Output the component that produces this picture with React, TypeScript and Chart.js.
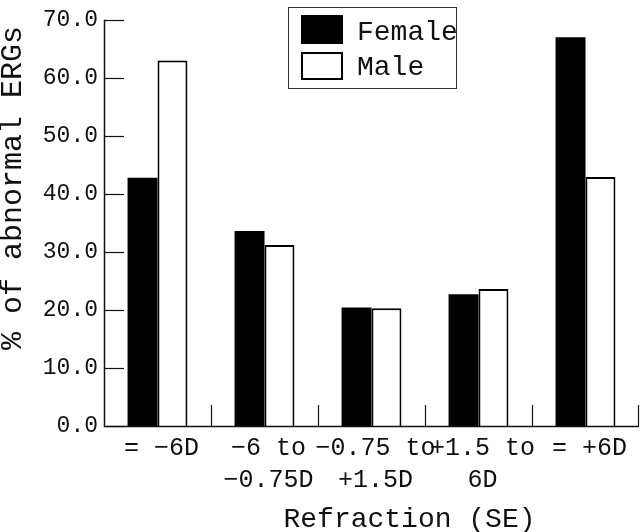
import React, { useEffect, useRef } from 'react';
import { Chart, registerables } from 'chart.js';

Chart.register(...registerables);

const categories: string[][] = [
  ['= −6D'],
  ['−6 to', '−0.75D'],
  ['−0.75 to', '+1.5D'],
  ['+1.5 to', '6D'],
  ['= +6D'],
];
const seriesNames = ['Female', 'Male'];
const femaleValues = [42.8, 33.6, 20.4, 22.7, 67.0];
const maleValues = [63.0, 31.2, 20.3, 23.6, 42.9];
const yTickValues = [0, 10, 20, 30, 40, 50, 60, 70];
const yTickLabels = ['0.0', '10.0', '20.0', '30.0', '40.0', '50.0', '60.0', '70.0'];
const xTitle = 'Refraction (SE)';
const yTitle = '% of abnormal ERGs';

const FONT = '"Liberation Mono", "DejaVu Sans Mono", monospace';

const decorPlugin = {
  id: 'decor',
  afterDraw(chart: any) {
    const { ctx, chartArea } = chart;
    const xs = chart.scales.x;
    const ys = chart.scales.y;
    ctx.save();
    ctx.strokeStyle = '#111';
    ctx.lineWidth = 1.5;
    // axis lines
    ctx.beginPath();
    ctx.moveTo(chartArea.left + 0.5, chartArea.top);
    ctx.lineTo(chartArea.left + 0.5, chartArea.bottom + 0.5);
    ctx.lineTo(chartArea.right, chartArea.bottom + 0.5);
    ctx.stroke();
    // y ticks (inward)
    ctx.lineWidth = 1.2;
    yTickValues.forEach((v) => {
      const y = Math.round(ys.getPixelForValue(v)) + 0.5;
      ctx.beginPath();
      ctx.moveTo(chartArea.left, y);
      ctx.lineTo(chartArea.left + 20, y);
      ctx.stroke();
    });
    // x ticks at category boundaries (inward)
    const n = categories.length;
    for (let i = 1; i <= n; i++) {
      let x: number;
      if (i < n) {
        x = (xs.getPixelForTick(i - 1) + xs.getPixelForTick(i)) / 2;
      } else {
        x = xs.getPixelForTick(n - 1) + (xs.getPixelForTick(n - 1) - xs.getPixelForTick(n - 2)) / 2 - 1;
      }
      x = Math.round(x) + 0.5;
      ctx.beginPath();
      ctx.moveTo(x, chartArea.bottom);
      ctx.lineTo(x, chartArea.bottom - 21);
      ctx.stroke();
    }
    // axis titles
    ctx.fillStyle = '#111';
    ctx.font = `28px ${FONT}`;
    ctx.textAlign = 'center';
    ctx.textBaseline = 'alphabetic';
    ctx.fillText(xTitle, 409.5, 527);
    ctx.save();
    ctx.translate(21, 188);
    ctx.rotate(-Math.PI / 2);
    ctx.font = `30px ${FONT}`;
    ctx.fillText(yTitle, 0, 0);
    ctx.restore();
    // legend
    ctx.lineWidth = 1;
    ctx.strokeStyle = '#333';
    ctx.strokeRect(288.5, 7.5, 168, 81);
    ctx.fillStyle = '#000';
    ctx.fillRect(301, 15, 42, 29);
    ctx.lineWidth = 2;
    ctx.strokeStyle = '#000';
    ctx.strokeRect(302, 53, 40, 26);
    ctx.fillStyle = '#111';
    ctx.font = `28px ${FONT}`;
    ctx.textAlign = 'left';
    ctx.fillText(seriesNames[0], 357, 40);
    ctx.fillText(seriesNames[1], 357, 75);
    ctx.restore();
  },
};

export default function App() {
  const ref = useRef<HTMLCanvasElement>(null);
  useEffect(() => {
    document.body.style.margin = '0';
    const canvas = ref.current!;
    const chart = new Chart(canvas, {
      type: 'bar',
      data: {
        labels: categories as any,
        datasets: [
          {
            label: seriesNames[0],
            data: femaleValues,
            backgroundColor: '#000',
            borderColor: '#000',
            borderWidth: 0,
            categoryPercentage: 0.56,
            barPercentage: 1,
          },
          {
            label: seriesNames[1],
            data: maleValues,
            backgroundColor: '#fff',
            borderColor: '#000',
            borderWidth: 2,
            categoryPercentage: 0.56,
            barPercentage: 1,
          },
        ],
      },
      options: {
        responsive: false,
        animation: false,
        events: [],
        layout: { padding: { top: 7, right: 1, left: 0, bottom: 0 } },
        plugins: {
          legend: { display: false },
          tooltip: { enabled: false },
          title: { display: false },
        },
        scales: {
          x: {
            grid: { display: false, drawTicks: false },
            border: { display: false },
            ticks: {
              color: '#111',
              font: { family: FONT, size: 25, lineHeight: 1.28 },
              padding: 6,
              maxRotation: 0,
              autoSkip: false,
              labelOffset: 4,
            },
            afterFit: (s: any) => {
              s.height = 106;
            },
          },
          y: {
            min: 0,
            max: 70,
            grid: { display: false, drawTicks: false },
            border: { display: false },
            ticks: {
              stepSize: 10,
              color: '#111',
              font: { family: FONT, size: 23 },
              padding: 6,
              callback: (v: any) => {
                const i = yTickValues.indexOf(Number(v));
                return i >= 0 ? yTickLabels[i] : '';
              },
            },
            afterFit: (s: any) => {
              s.width = 104;
            },
          },
        },
      },
      plugins: [decorPlugin],
    });
    return () => chart.destroy();
  }, []);
  return <canvas ref={ref} width={640} height={532} style={{ display: 'block' }} />;
}
